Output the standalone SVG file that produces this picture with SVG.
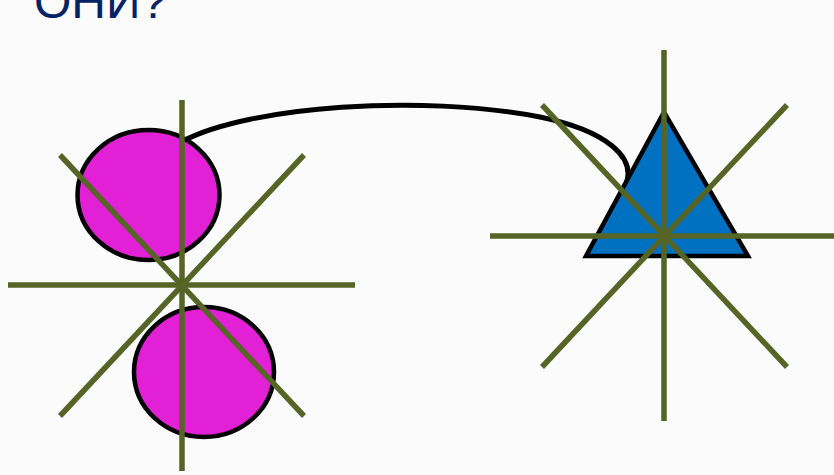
<svg xmlns="http://www.w3.org/2000/svg" width="834" height="475" viewBox="0 0 834 475">
<style>
.ray{stroke:#566526;stroke-width:5.5;fill:none}
.orb{fill:#e220d6;stroke:#000;stroke-width:4.5}
.tri{fill:#0070c0;stroke:#000;stroke-width:4.5}
.link{fill:none;stroke:#000;stroke-width:5}
.title{font-family:"Liberation Sans",Arial,sans-serif;font-size:48px;fill:#062266}
</style>
<rect width="834" height="475" fill="#fbfbfb"/>
<text class="title" x="34" y="18">ОНИ?</text>
<g id="connectors">
<path class="link" d="M183,141 C250,106 420,94 540,117 C608,131 636,158 626,184"/>
</g>
<g id="p-orbital">
<ellipse class="orb" cx="148.5" cy="195" rx="71" ry="65"/>
<ellipse class="orb" cx="204" cy="372" rx="70" ry="65"/>
<line class="ray" x1="182" y1="100" x2="182" y2="471"/>
<line class="ray" x1="8" y1="285" x2="355" y2="285"/>
<line class="ray" x1="60" y1="155" x2="304" y2="416"/>
<line class="ray" x1="304" y1="155" x2="60" y2="416"/>
</g>
<g id="triangle">
<polygon class="tri" points="664,112 586,256 748,256"/>
<line class="ray" x1="664" y1="50" x2="664" y2="421"/>
<line class="ray" x1="490" y1="236" x2="834" y2="236"/>
<line class="ray" x1="542" y1="105" x2="787" y2="367"/>
<line class="ray" x1="787" y1="105" x2="542" y2="367"/>
</g>
</svg>
